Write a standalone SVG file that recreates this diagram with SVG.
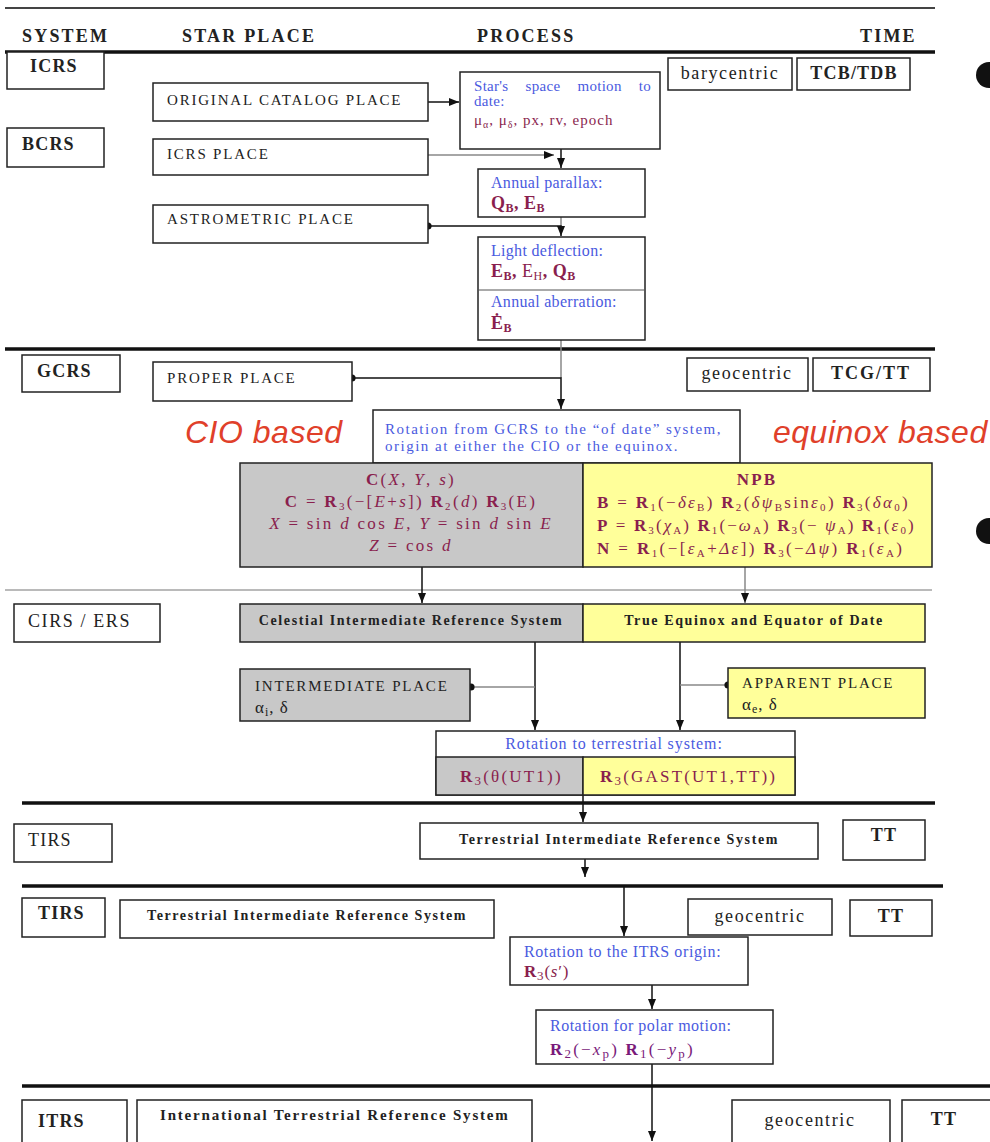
<svg xmlns="http://www.w3.org/2000/svg" width="990" height="1142" viewBox="0 0 990 1142">
<defs>
<style>
text{font-family:"Liberation Serif","Times New Roman",serif;}
.hd{font-size:18px;font-weight:bold;fill:#222;letter-spacing:2.2px}
.sys{font-size:18px;font-weight:bold;fill:#222;letter-spacing:1.2px}
.pl{font-size:15px;fill:#222;letter-spacing:1.8px}
.plb{font-size:14px;font-weight:bold;fill:#222;letter-spacing:1.6px}
.bl{font-size:16px;fill:#4a5ae0;letter-spacing:0.3px}
.fm{font-size:17px;fill:#8a1f4e;letter-spacing:2.2px}
.fmb{font-size:18px;fill:#8a1f4e;font-weight:bold;letter-spacing:0.5px}
.tm{font-size:18px;fill:#222;letter-spacing:1.6px}
.s{font-size:11px}
.box{fill:#fff;stroke:#222;stroke-width:1.5}
.gbox{fill:#c8c8c8;stroke:#222;stroke-width:1.5}
.ybox{fill:#ffff9a;stroke:#222;stroke-width:1.5}
.thick{stroke:#111;stroke-width:3.5}
.thin{stroke:#777;stroke-width:1.2}
.c{fill:none;stroke:#111;stroke-width:1.5}
.cg{fill:none;stroke:#888;stroke-width:1.5}
.big{font-family:"Liberation Sans",Arial,sans-serif;font-style:italic;font-size:32px;fill:#e0402a;letter-spacing:0.5px}
</style>
<marker id="ar" viewBox="0 0 10 10" refX="10" refY="5" markerWidth="7" markerHeight="7" orient="auto"><path d="M0,1 L10,5 L0,9 z" fill="#111"/></marker>
<marker id="dt" viewBox="0 0 10 10" refX="5" refY="5" markerWidth="6" markerHeight="6"><circle cx="5" cy="5" r="4" fill="#111"/></marker>
</defs>
<rect width="990" height="1142" fill="#fff"/>

<g id="rules">
<line x1="5" y1="8" x2="935" y2="8" stroke="#444" stroke-width="2"/>
<line class="thick" x1="5" y1="52" x2="935" y2="52"/>
<line class="thick" x1="5" y1="349" x2="935" y2="349"/>
<line class="thin" x1="5" y1="590" x2="932" y2="590"/>
<line class="thick" x1="22" y1="803" x2="935" y2="803"/>
<line class="thick" x1="22" y1="886" x2="943" y2="886"/>
<line class="thick" x1="22" y1="1086" x2="990" y2="1086"/>
<circle cx="989" cy="75" r="13" fill="#111"/>
<circle cx="989" cy="531" r="13" fill="#111"/>
</g>

<g id="headers">
<text class="hd" x="22" y="42">SYSTEM</text>
<text class="hd" x="182" y="42">STAR PLACE</text>
<text class="hd" x="477" y="42">PROCESS</text>
<text class="hd" x="860" y="42">TIME</text>
</g>

<g id="connectors">
<line class="c" x1="428" y1="102" x2="459" y2="102" marker-end="url(#ar)"/>
<line class="cg" x1="428" y1="155" x2="554" y2="155" marker-end="url(#ar)"/>
<line class="c" x1="561" y1="149" x2="561" y2="168" marker-end="url(#ar)"/>
<line class="cg" x1="561" y1="217" x2="561" y2="226"/>
<polyline class="c" points="428,226 561,226 561,236" marker-start="url(#dt)" marker-end="url(#ar)"/>
<line class="cg" x1="561" y1="340" x2="561" y2="378"/>
<polyline class="c" points="352,378 561,378 561,409" marker-start="url(#dt)" marker-end="url(#ar)"/>
<line class="c" x1="422" y1="567" x2="422" y2="603" marker-end="url(#ar)"/>
<line class="cg" x1="745" y1="567" x2="745" y2="603" marker-end="url(#ar)"/>
<line class="c" x1="535" y1="642" x2="535" y2="730" marker-end="url(#ar)"/>
<line class="c" x1="680" y1="642" x2="680" y2="730" marker-end="url(#ar)"/>
<line class="cg" x1="471" y1="687" x2="535" y2="687" marker-start="url(#dt)"/>
<line class="cg" x1="680" y1="685" x2="728" y2="685" marker-end="url(#dt)"/>
<line class="c" x1="583" y1="795" x2="583" y2="822" marker-end="url(#ar)"/>
<line class="c" x1="585" y1="859" x2="585" y2="877" marker-end="url(#ar)"/>
<line class="c" x1="624" y1="886" x2="624" y2="936" marker-end="url(#ar)"/>
<line class="c" x1="652" y1="985" x2="652" y2="1009" marker-end="url(#ar)"/>
<line class="c" x1="652" y1="1064" x2="652" y2="1141" marker-end="url(#ar)"/>
</g>

<g id="icrs"><rect class="box" x="7" y="52" width="97" height="37"/><text class="sys" x="30" y="72">ICRS</text></g>
<g id="bcrs"><rect class="box" x="7" y="128" width="97" height="39"/><text class="sys" x="22" y="150">BCRS</text></g>
<g id="orig"><rect class="box" x="153" y="83" width="275" height="38"/><text class="pl" x="167" y="105">ORIGINAL CATALOG PLACE</text></g>
<g id="icrsplace"><rect class="box" x="153" y="139" width="275" height="36"/><text class="pl" x="167" y="159">ICRS PLACE</text></g>
<g id="astro"><rect class="box" x="153" y="205" width="275" height="38"/><text class="pl" x="167" y="224">ASTROMETRIC PLACE</text></g>
<g id="spacemotion"><rect class="box" x="460" y="72" width="200" height="77"/>
<text class="bl" style="font-size:15px" word-spacing="13" x="474" y="91">Star's space motion to</text>
<text class="bl" style="font-size:15px" x="474" y="106">date:</text>
<text class="fm" style="font-size:15px;letter-spacing:1px" x="474" y="125">μ<tspan style="font-size:10px" baseline-shift="-3">α</tspan>, μ<tspan style="font-size:10px" baseline-shift="-3">δ</tspan>, px, rv, epoch</text></g>
<g id="bary"><rect class="box" x="668" y="58" width="124" height="32"/><text class="tm" x="730" y="79" text-anchor="middle">barycentric</text></g>
<g id="tcb"><rect class="box" x="797" y="58" width="113" height="32"/><text class="sys" x="854" y="79" text-anchor="middle">TCB/TDB</text></g>
<g id="parallax"><rect class="box" x="478" y="169" width="167" height="48"/>
<text class="bl" x="491" y="188">Annual parallax:</text>
<text class="fmb" x="491" y="209">Q<tspan font-size="12" baseline-shift="-3">B</tspan>, E<tspan font-size="12" baseline-shift="-3">B</tspan></text></g>
<g id="deflection"><rect class="box" x="478" y="237" width="167" height="103"/>
<line x1="478" y1="290" x2="645" y2="290" stroke="#555" stroke-width="1"/>
<text class="bl" x="491" y="256">Light deflection:</text>
<text class="fmb" x="491" y="277">E<tspan font-size="12" baseline-shift="-3">B</tspan>, <tspan font-weight="normal">E<tspan font-size="12" baseline-shift="-3">H</tspan></tspan>, Q<tspan font-size="12" baseline-shift="-3">B</tspan></text>
<text class="bl" x="491" y="307">Annual aberration:</text>
<text class="fmb" x="491" y="329">Ė<tspan font-size="12" baseline-shift="-3">B</tspan></text></g>

<g id="gcrs"><rect class="box" x="22" y="355" width="98" height="37"/><text class="sys" x="37" y="377">GCRS</text></g>
<g id="proper"><rect class="box" x="153" y="362" width="199" height="39"/><text class="pl" x="167" y="383">PROPER PLACE</text></g>
<g id="geo1"><rect class="box" x="687" y="358" width="121" height="33"/><text class="tm" x="747" y="379" text-anchor="middle">geocentric</text></g>
<g id="tcg"><rect class="box" x="813" y="358" width="117" height="33"/><text class="sys" style="letter-spacing:2px" x="871" y="379" text-anchor="middle">TCG/TT</text></g>
<text class="big" x="185" y="443">CIO based</text>
<text class="big" x="773" y="443">equinox based</text>
<g id="rotgcrs"><rect class="box" x="373" y="410" width="367" height="53"/>
<text class="bl" style="font-size:15px;letter-spacing:1.5px" x="385" y="434">Rotation from GCRS to the “of date” system,</text>
<text class="bl" style="font-size:15px;letter-spacing:1.5px" x="385" y="451">origin at either the CIO or the equinox.</text></g>

<g id="cio"><rect class="gbox" x="240" y="463" width="343" height="104"/>
<text class="fm" style="letter-spacing:2.3px" x="411" y="485" text-anchor="middle"><tspan font-weight="bold">C</tspan>(<tspan font-style="italic">X</tspan>, <tspan font-style="italic">Y</tspan>, <tspan font-style="italic">s</tspan>)</text>
<text class="fm" style="letter-spacing:2.3px" x="411" y="507" text-anchor="middle"><tspan font-weight="bold">C</tspan> = <tspan font-weight="bold">R</tspan><tspan class="s" baseline-shift="-3">3</tspan>(−[<tspan font-style="italic">E</tspan>+<tspan font-style="italic">s</tspan>]) <tspan font-weight="bold">R</tspan><tspan class="s" baseline-shift="-3">2</tspan>(<tspan font-style="italic">d</tspan>) <tspan font-weight="bold">R</tspan><tspan class="s" baseline-shift="-3">3</tspan>(E)</text>
<text class="fm" style="letter-spacing:2.3px" x="411" y="529" text-anchor="middle"><tspan font-style="italic">X</tspan> = sin <tspan font-style="italic">d</tspan> cos <tspan font-style="italic">E</tspan>, <tspan font-style="italic">Y</tspan> = sin <tspan font-style="italic">d</tspan> sin <tspan font-style="italic">E</tspan></text>
<text class="fm" style="letter-spacing:2.3px" x="411" y="551" text-anchor="middle"><tspan font-style="italic">Z</tspan> = cos <tspan font-style="italic">d</tspan></text></g>
<g id="npb"><rect class="ybox" x="583" y="463" width="349" height="104"/>
<text class="fm" font-weight="bold" x="757" y="485" text-anchor="middle">NPB</text>
<text class="fm" style="letter-spacing:2.3px" x="597" y="508"><tspan font-weight="bold">B</tspan> = <tspan font-weight="bold">R</tspan><tspan class="s" baseline-shift="-3">1</tspan>(−<tspan font-style="italic">δε</tspan><tspan class="s" baseline-shift="-3">B</tspan>) <tspan font-weight="bold">R</tspan><tspan class="s" baseline-shift="-3">2</tspan>(<tspan font-style="italic">δψ</tspan><tspan class="s" baseline-shift="-3">B</tspan>sin<tspan font-style="italic">ε</tspan><tspan class="s" baseline-shift="-3">0</tspan>) <tspan font-weight="bold">R</tspan><tspan class="s" baseline-shift="-3">3</tspan>(<tspan font-style="italic">δα</tspan><tspan class="s" baseline-shift="-3">0</tspan>)</text>
<text class="fm" style="letter-spacing:2.1px" x="597" y="531"><tspan font-weight="bold">P</tspan> = <tspan font-weight="bold">R</tspan><tspan class="s" baseline-shift="-3">3</tspan>(<tspan font-style="italic">χ</tspan><tspan class="s" baseline-shift="-3">A</tspan>) <tspan font-weight="bold">R</tspan><tspan class="s" baseline-shift="-3">1</tspan>(−<tspan font-style="italic">ω</tspan><tspan class="s" baseline-shift="-3">A</tspan>) <tspan font-weight="bold">R</tspan><tspan class="s" baseline-shift="-3">3</tspan>(− <tspan font-style="italic">ψ</tspan><tspan class="s" baseline-shift="-3">A</tspan>) <tspan font-weight="bold">R</tspan><tspan class="s" baseline-shift="-3">1</tspan>(<tspan font-style="italic">ε</tspan><tspan class="s" baseline-shift="-3">0</tspan>)</text>
<text class="fm" style="letter-spacing:2.4px" x="597" y="554"><tspan font-weight="bold">N</tspan> = <tspan font-weight="bold">R</tspan><tspan class="s" baseline-shift="-3">1</tspan>(−[<tspan font-style="italic">ε</tspan><tspan class="s" baseline-shift="-3">A</tspan>+<tspan font-style="italic">Δε</tspan>]) <tspan font-weight="bold">R</tspan><tspan class="s" baseline-shift="-3">3</tspan>(−<tspan font-style="italic">Δψ</tspan>) <tspan font-weight="bold">R</tspan><tspan class="s" baseline-shift="-3">1</tspan>(<tspan font-style="italic">ε</tspan><tspan class="s" baseline-shift="-3">A</tspan>)</text></g>

<g id="cirs"><rect class="box" x="14" y="604" width="146" height="38"/><text class="tm" x="28" y="627">CIRS / ERS</text></g>
<g id="cirsys"><rect class="gbox" x="240" y="604" width="343" height="38"/><text class="plb" x="411" y="625" text-anchor="middle">Celestial Intermediate Reference System</text></g>
<g id="teed"><rect class="ybox" x="583" y="604" width="342" height="38"/><text class="plb" x="754" y="625" text-anchor="middle">True Equinox and Equator of Date</text></g>
<g id="intplace"><rect class="gbox" x="240" y="669" width="230" height="52"/>
<text class="pl" x="255" y="691">INTERMEDIATE PLACE</text>
<text class="tm" style="font-size:17px;letter-spacing:1px" x="255" y="713">α<tspan font-size="12" baseline-shift="-3">i</tspan>, δ</text></g>
<g id="appplace"><rect class="ybox" x="728" y="668" width="197" height="50"/>
<text class="pl" x="742" y="688">APPARENT PLACE</text>
<text class="tm" style="font-size:17px;letter-spacing:1px" x="742" y="710">α<tspan font-size="12" baseline-shift="-3">e</tspan>, δ</text></g>
<g id="rotterr"><rect class="box" x="436" y="731" width="359" height="64"/>
<rect class="gbox" x="436" y="757" width="147" height="38"/>
<rect class="ybox" x="583" y="757" width="212" height="38"/>
<text class="bl" style="letter-spacing:0.9px" x="614" y="749" text-anchor="middle">Rotation to terrestrial system:</text>
<text class="fm" x="460" y="782"><tspan font-weight="bold">R</tspan><tspan font-size="13" baseline-shift="-3">3</tspan>(θ(UT1))</text>
<text class="fm" x="600" y="782"><tspan font-weight="bold">R</tspan><tspan font-size="13" baseline-shift="-3">3</tspan>(GAST(UT1,TT))</text></g>

<g id="tirs1"><rect class="box" x="14" y="824" width="98" height="38"/><text class="sys" style="font-weight:normal" x="28" y="846">TIRS</text></g>
<g id="tirsys1"><rect class="box" x="420" y="823" width="398" height="36"/><text class="plb" x="619" y="844" text-anchor="middle">Terrestrial Intermediate Reference System</text></g>
<g id="tt1"><rect class="box" x="843" y="820" width="82" height="40"/><text class="sys" x="884" y="841" text-anchor="middle">TT</text></g>

<g id="tirs2"><rect class="box" x="22" y="898" width="83" height="39"/><text class="sys" x="38" y="919">TIRS</text></g>
<g id="tirsys2"><rect class="box" x="120" y="900" width="374" height="38"/><text class="plb" x="307" y="920" text-anchor="middle">Terrestrial Intermediate Reference System</text></g>
<g id="geo2"><rect class="box" x="688" y="899" width="144" height="36"/><text class="tm" x="760" y="922" text-anchor="middle">geocentric</text></g>
<g id="tt2"><rect class="box" x="850" y="900" width="82" height="36"/><text class="sys" x="891" y="922" text-anchor="middle">TT</text></g>
<g id="rotitrs"><rect class="box" x="510" y="937" width="238" height="48"/>
<text class="bl" style="letter-spacing:0.6px" x="524" y="957">Rotation to the ITRS origin:</text>
<text class="fm" style="letter-spacing:0.8px" x="524" y="977"><tspan font-weight="bold">R</tspan><tspan font-size="13" baseline-shift="-3">3</tspan>(<tspan font-style="italic">s</tspan>′)</text></g>
<g id="polar"><rect class="box" x="536" y="1010" width="237" height="54"/>
<text class="bl" style="letter-spacing:0.5px" x="550" y="1031">Rotation for polar motion:</text>
<text class="fm" style="fill:#7a1a7a" x="550" y="1055"><tspan font-weight="bold">R</tspan><tspan font-size="13" baseline-shift="-3">2</tspan>(−<tspan font-style="italic">x</tspan><tspan font-size="13" baseline-shift="-3">p</tspan>) <tspan font-weight="bold">R</tspan><tspan font-size="13" baseline-shift="-3">1</tspan>(−<tspan font-style="italic">y</tspan><tspan font-size="13" baseline-shift="-3">p</tspan>)</text></g>

<g id="itrs"><rect class="box" x="22" y="1100" width="105" height="45"/><text class="sys" x="38" y="1127">ITRS</text></g>
<g id="itrsys"><rect class="box" x="137" y="1100" width="395" height="45"/><text class="plb" style="font-size:15px;letter-spacing:1.8px" x="160" y="1120">International Terrestrial Reference System</text></g>
<g id="geo3"><rect class="box" x="732" y="1100" width="158" height="45"/><text class="tm" x="810" y="1126" text-anchor="middle">geocentric</text></g>
<g id="tt3"><rect class="box" x="902" y="1100" width="95" height="45"/><text class="sys" x="944" y="1125" text-anchor="middle">TT</text></g>
</svg>
